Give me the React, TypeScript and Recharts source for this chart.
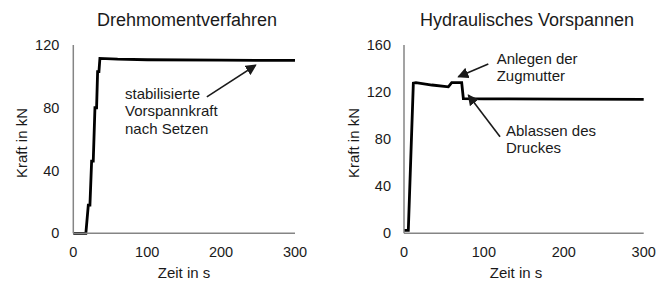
import { LineChart, Line, XAxis, YAxis, ReferenceLine } from "recharts";

// Drehmomentverfahren (Zeit in s / Kraft in kN)
const torqueTime = [0, 17, 20.3, 22.5, 24.8, 27, 29.3, 31.5, 32.9, 34.7, 36, 60, 100, 200, 300];
const torqueForce = [0, 0, 18, 18, 46, 46, 80, 80, 103, 103, 111.5, 111, 110.6, 110.3, 110.2];

// Hydraulisches Vorspannen
const hydroTime = [0, 5.4, 11.7, 15, 35, 55.5, 59.7, 72.2, 74.3, 100, 200, 300];
const hydroForce = [2.5, 2.5, 127.5, 128, 126, 124.5, 128, 128, 114.5, 114.3, 114, 113.8];

const timeTicks = [0, 100, 200, 300];
const torqueTicks = [0, 40, 80, 120];
const hydroTicks = [0, 40, 80, 120, 160];

const torqueData = torqueTime.map((t, i) => ({ t, f: torqueForce[i] }));
const hydroData = hydroTime.map((t, i) => ({ t, f: hydroForce[i] }));

const font = '"Liberation Sans", Arial, sans-serif';
const ink = "#1a1a1a";
const axisGrey = "#858585";

function Arrow({ id }: { id: string }) {
  return (
    <defs>
      <marker
        id={id}
        viewBox="0 0 10 10"
        refX="9"
        refY="5"
        markerWidth="11"
        markerHeight="11"
        markerUnits="userSpaceOnUse"
        orient="auto"
      >
        <path d="M0,0 L10,5 L0,10 z" fill={ink} />
      </marker>
    </defs>
  );
}

export default function App() {
  const tickStyle = { fill: ink, fontSize: 14.5, fontFamily: font };
  const txt = { fill: ink, fontFamily: font };

  return (
    <div style={{ position: "relative", width: 665, height: 282, background: "#fff" }}>
      <style>{`body{margin:0}`}</style>
      <div style={{ position: "absolute", left: 0, top: 0 }}>
        <LineChart
          width={332}
          height={282}
          data={torqueData}
          margin={{ top: 45, right: 37, bottom: 18.7, left: 33.3 }}
        >
          <Arrow id="arrowL" />
          <XAxis
            type="number"
            dataKey="t"
            domain={[0, 300]}
            ticks={timeTicks}
            tickLine={false}
            tickSize={0}
            tickMargin={13}
            height={30}
            tick={tickStyle}
            axisLine={{ stroke: axisGrey, strokeWidth: 1.5 }}
          />
          <YAxis
            type="number"
            domain={[0, 120]}
            ticks={torqueTicks}
            tickLine={false}
            tickSize={0}
            tickMargin={14}
            width={40}
            tick={tickStyle}
            axisLine={{ stroke: axisGrey, strokeWidth: 1.5 }}
          />
          <Line
            type="linear"
            dataKey="f"
            stroke="#000"
            strokeWidth={2.8}
            dot={false}
            isAnimationActive={false}
          />
          <ReferenceLine
            segment={[{ x: 180.7, y: 86.9 }, { x: 246.9, y: 107.2 }]}
            stroke={ink}
            strokeWidth={1.6}
            markerEnd="url(#arrowL)"
          />
          <text x={187} y={26} textAnchor="middle" fontSize={18} {...txt}>
            Drehmomentverfahren
          </text>
          <text x={184} y={278} textAnchor="middle" fontSize={15} {...txt}>
            Zeit in s
          </text>
          <text
            x={27}
            y={143}
            textAnchor="middle"
            fontSize={15}
            transform="rotate(-90 27 143)"
            {...txt}
          >
            Kraft in kN
          </text>
          <text x={125} y={98.5} fontSize={15} {...txt}>
            stabilisierte
          </text>
          <text x={125} y={116} fontSize={15} {...txt}>
            Vorspannkraft
          </text>
          <text x={125} y={133.5} fontSize={15} {...txt}>
            nach Setzen
          </text>
        </LineChart>
      </div>
      <div style={{ position: "absolute", left: 332, top: 0 }}>
        <LineChart
          width={333}
          height={282}
          data={hydroData}
          margin={{ top: 45, right: 21.3, bottom: 18.7, left: 32 }}
        >
          <Arrow id="arrowR" />
          <XAxis
            type="number"
            dataKey="t"
            domain={[0, 300]}
            ticks={timeTicks}
            tickLine={false}
            tickSize={0}
            tickMargin={13}
            height={30}
            tick={tickStyle}
            axisLine={{ stroke: axisGrey, strokeWidth: 1.5 }}
          />
          <YAxis
            type="number"
            domain={[0, 160]}
            ticks={hydroTicks}
            tickLine={false}
            tickSize={0}
            tickMargin={13}
            width={40}
            tick={tickStyle}
            axisLine={{ stroke: axisGrey, strokeWidth: 1.5 }}
          />
          <Line
            type="linear"
            dataKey="f"
            stroke="#000"
            strokeWidth={2.8}
            dot={false}
            isAnimationActive={false}
          />
          <ReferenceLine
            segment={[{ x: 105.5, y: 143.8 }, { x: 68, y: 133 }]}
            stroke={ink}
            strokeWidth={1.6}
            markerEnd="url(#arrowR)"
          />
          <ReferenceLine
            segment={[{ x: 120.2, y: 82 }, { x: 80.5, y: 117.5 }]}
            stroke={ink}
            strokeWidth={1.6}
            markerEnd="url(#arrowR)"
          />
          <text x={195} y={26} textAnchor="middle" fontSize={18} {...txt}>
            Hydraulisches Vorspannen
          </text>
          <text x={184} y={278} textAnchor="middle" fontSize={15} {...txt}>
            Zeit in s
          </text>
          <text
            x={27}
            y={143}
            textAnchor="middle"
            fontSize={15}
            transform="rotate(-90 27 143)"
            {...txt}
          >
            Kraft in kN
          </text>
          <text x={164.7} y={63.5} fontSize={15} {...txt}>
            Anlegen der
          </text>
          <text x={164.7} y={81} fontSize={15} {...txt}>
            Zugmutter
          </text>
          <text x={174} y={135.5} fontSize={15} {...txt}>
            Ablassen des
          </text>
          <text x={174} y={153} fontSize={15} {...txt}>
            Druckes
          </text>
        </LineChart>
      </div>
    </div>
  );
}
